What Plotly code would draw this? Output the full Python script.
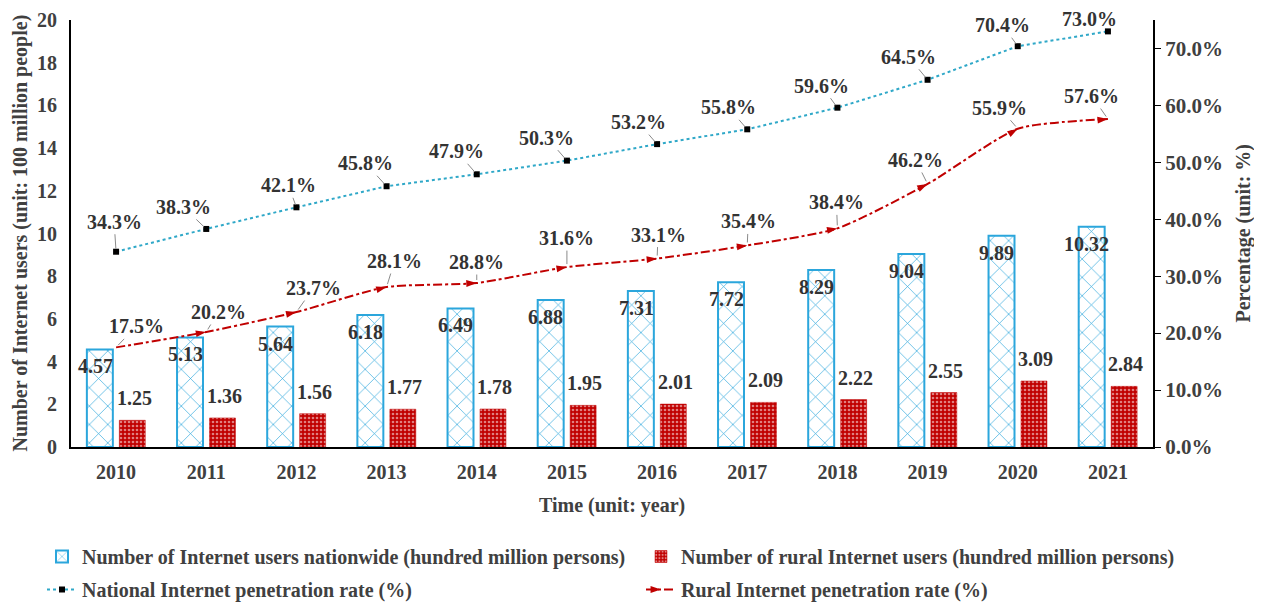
import plotly.graph_objects as go

years = ["2010", "2011", "2012", "2013", "2014", "2015",
         "2016", "2017", "2018", "2019", "2020", "2021"]
users_national = [4.57, 5.13, 5.64, 6.18, 6.49, 6.88, 7.31, 7.72, 8.29, 9.04, 9.89, 10.32]
users_rural = [1.25, 1.36, 1.56, 1.77, 1.78, 1.95, 2.01, 2.09, 2.22, 2.55, 3.09, 2.84]
rate_national = [34.3, 38.3, 42.1, 45.8, 47.9, 50.3, 53.2, 55.8, 59.6, 64.5, 70.4, 73.0]
rate_rural = [17.5, 20.2, 23.7, 28.1, 28.8, 31.6, 33.1, 35.4, 38.4, 46.2, 55.9, 57.6]

# label offsets (pixels) for the percentage labels
nat_off = [(-2, -30), (-23, -22), (-8, -22), (-21, -23), (-20, -23), (-20, -23),
           (-19, -22), (-19, -22), (-16, -22), (-19, -23), (-15, -21), (-18, -12)]
rur_off = [(20, -21), (12, -20), (17, -24), (8, -26), (0, -21), (0, -29),
           (1, -24), (1, -24), (-1, -26), (-12, -24), (-18, -21), (-16, -23)]

FONT = "Liberation Serif"
BLUE = "#2ba6dc"
RED = "#c00000"
GREY = "#404040"

fig = go.Figure()

fig.add_trace(go.Bar(
    x=years, y=users_national, legend="legend", legendgroup="a",
    name="<b>Number of Internet users nationwide (hundred million persons)</b>",
    marker=dict(color=BLUE, line=dict(color=BLUE, width=2),
                pattern=dict(shape="x", bgcolor="white", fgcolor=BLUE,
                             size=13, solidity=0.1, fillmode="replace")),
))
fig.add_trace(go.Bar(
    x=years, y=users_rural, legend="legend2", legendgroup="b",
    name="<b>Number of rural Internet users (hundred million persons)</b>",
    marker=dict(color=RED, line=dict(color=RED, width=0.5),
                pattern=dict(shape=".", fgcolor="white", size=4,
                             solidity=0.35, fillmode="overlay")),
))
fig.add_trace(go.Scatter(
    x=years, y=rate_national, yaxis="y2", mode="lines+markers",
    legend="legend", legendgroup="c",
    name="<b>National Internet penetration rate (%)</b>",
    line=dict(color="#2fa8c8", width=2, dash="dot"),
    marker=dict(symbol="square", size=6, color="black"),
))
fig.add_trace(go.Scatter(
    x=years, y=rate_rural, yaxis="y2", mode="lines+markers",
    legend="legend2", legendgroup="d",
    name="<b>Rural Internet penetration rate (%)</b>",
    line=dict(color=RED, width=2, dash="dashdot", shape="spline", smoothing=0.6),
    marker=dict(symbol="arrow", size=11, color=RED, angleref="previous"),
))

lab_font = dict(family=FONT, size=20, color="#333333")
ann = []
for i, yr in enumerate(years):
    ann.append(dict(x=i, y=users_national[i], xref="x", yref="y",
                    text=f"<b>{users_national[i]:.2f}</b>", showarrow=False,
                    xshift=-21, yshift=-17, yanchor="middle", font=lab_font))
    ann.append(dict(x=i, y=users_rural[i], xref="x", yref="y",
                    text=f"<b>{users_rural[i]:.2f}</b>", showarrow=False,
                    xshift=18, yshift=9, yanchor="bottom", font=lab_font))
    ann.append(dict(x=i, y=rate_national[i], xref="x", yref="y2",
                    text=f"<b>{rate_national[i]:.1f}%</b>", showarrow=True,
                    arrowhead=0, arrowwidth=1, arrowcolor="#8a8a8a", standoff=3,
                    ax=nat_off[i][0], ay=nat_off[i][1], font=lab_font))
    ann.append(dict(x=i, y=rate_rural[i], xref="x", yref="y2",
                    text=f"<b>{rate_rural[i]:.1f}%</b>", showarrow=True,
                    arrowhead=0, arrowwidth=1, arrowcolor="#8a8a8a", standoff=3,
                    ax=rur_off[i][0], ay=rur_off[i][1], font=lab_font))

title_font = dict(family=FONT, size=20, color=GREY)
# axis titles
ann.append(dict(x=0, y=0.5, xref="paper", yref="paper", xshift=-51, textangle=-90,
                xanchor="center", yanchor="middle",
                text="<b>Number of Internet users (unit: 100 million people)</b>",
                showarrow=False, font=title_font))
ann.append(dict(x=1, y=0.5, xref="paper", yref="paper", xshift=90, textangle=-90,
                xanchor="center", yanchor="middle",
                text="<b>Percentage (unit: %)</b>", showarrow=False, font=title_font))
ann.append(dict(x=0.5, y=0, xref="paper", yref="paper", yshift=-58,
                xanchor="center", yanchor="middle",
                text="<b>Time (unit: year)</b>", showarrow=False, font=title_font))

tick_font = dict(family=FONT, size=20, color=GREY)
leg_font = dict(family=FONT, size=20, color=GREY)

fig.update_layout(
    width=1262, height=607,
    margin=dict(l=63, r=117, t=12, b=168, autoexpand=False),
    paper_bgcolor="white", plot_bgcolor="white",
    font=dict(family=FONT, color=GREY),
    barmode="group", bargap=0.28, bargroupgap=0.2,
    showlegend=True,
    legend=dict(x=34 / 1262, xref="container", y=78 / 607, yref="container",
                yanchor="top", xanchor="left", tracegroupgap=4,
                font=leg_font),
    legend2=dict(x=633 / 1262, xref="container", y=78 / 607, yref="container",
                 yanchor="top", xanchor="left", tracegroupgap=4,
                 font=leg_font),
    xaxis=dict(type="category", range=[-0.5, 11.5], showline=True, linecolor="black",
               linewidth=2, ticks="outside", ticklen=6, tickcolor="rgba(0,0,0,0)",
               tickvals=years, ticktext=[f"<b>{y}</b>" for y in years],
               tickfont=tick_font, showgrid=False),
    yaxis=dict(range=[0, 20], dtick=2, showline=True, linecolor="black", linewidth=2,
               ticks="outside", ticklen=8, tickcolor="rgba(0,0,0,0)",
               showgrid=False, zeroline=False, tickfont=tick_font,
               tickprefix="<b>", ticksuffix="</b>"),
    yaxis2=dict(range=[0, 75], dtick=10, overlaying="y", side="right",
                showline=True, linecolor="black", linewidth=2,
                ticks="outside", ticklen=6, tickcolor="black",
                tickformat=".1f", tickprefix="<b>", ticksuffix="%</b>",
                showgrid=False, zeroline=False,
                tickfont=dict(family=FONT, size=21, color=GREY)),
    annotations=ann,
)

fig.write_html("out.html")
